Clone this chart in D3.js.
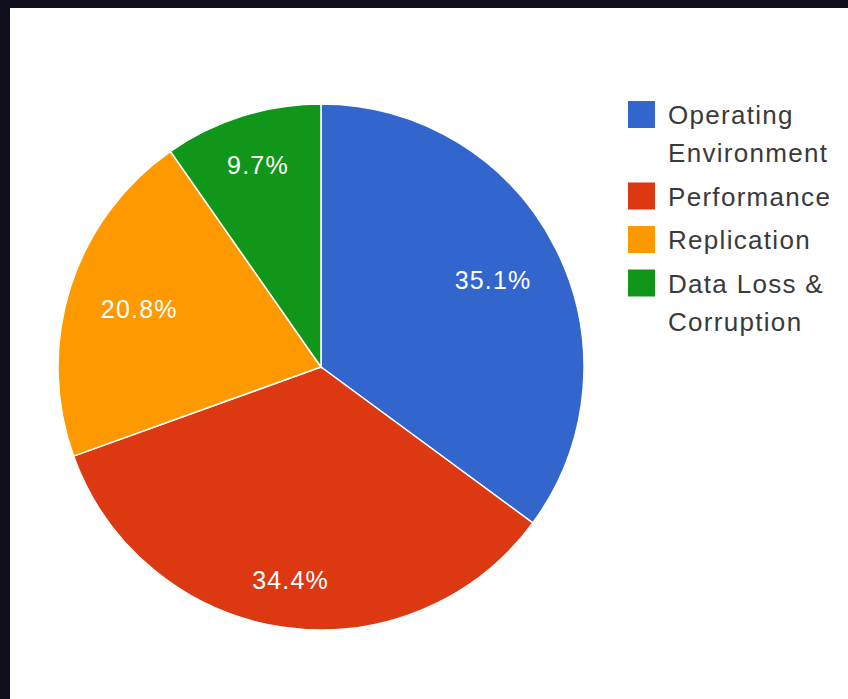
<!DOCTYPE html>
<html>
<head>
<meta charset="utf-8">
<script src="https://cdn.jsdelivr.net/npm/d3@7"></script>
<style>
  body { margin: 0; background: #0f0f1c; }
  svg { display: block; }
</style>
</head>
<body>
<div id="chart"></div>
<script>
// slice data
var categories = ["Operating Environment", "Performance", "Replication", "Data Loss & Corruption"];
var legendLines = [["Operating", "Environment"], ["Performance"], ["Replication"], ["Data Loss &", "Corruption"]];
var shares = [35.1, 34.4, 20.8, 9.7];
var colors = ["#3366cc", "#dc3912", "#ff9900", "#109618"];

var svgWidth = 848;
var svgHeight = 699;

var svg = d3.select("#chart")
  .append("svg")
  .attr("width", svgWidth)
  .attr("height", svgHeight);

// dark frame with white panel
svg.append("rect")
  .attr("width", svgWidth)
  .attr("height", svgHeight)
  .attr("fill", "#0f0f1c");

svg.append("rect")
  .attr("x", 10)
  .attr("y", 8)
  .attr("width", svgWidth - 10)
  .attr("height", svgHeight - 8)
  .attr("fill", "#ffffff");

var cx = 321, cy = 367, radius = 263;

var pie = d3.pie().sort(null).value(d => d);
var arc = d3.arc().innerRadius(0).outerRadius(radius);

var arcs = pie(shares);

var pieGroup = svg.append("g")
  .attr("transform", `translate(${cx}, ${cy})`);

pieGroup.selectAll("path")
  .data(arcs)
  .enter()
  .append("path")
  .attr("d", arc)
  .attr("fill", (d, i) => colors[i])
  .attr("stroke", "#ffffff")
  .attr("stroke-width", 1.5);

// percentage labels: text box kept inside a circle, as the original does
var labelFont = 25;
var labels = pieGroup.selectAll("text.pct")
  .data(arcs)
  .enter()
  .append("text")
  .attr("class", "pct")
  .attr("font-family", "Liberation Sans, Arial, sans-serif")
  .attr("font-size", labelFont + "px")
  .attr("letter-spacing", "1.2px")
  .attr("fill", "#ffffff")
  .attr("text-anchor", "middle")
  .attr("dominant-baseline", "central")
  .text(d => d.value.toFixed(1) + "%");

labels.each(function(d) {
  var w = this.getComputedTextLength();
  var h = 20;
  var a = (d.startAngle + d.endAngle) / 2;
  var s = Math.sin(a), c = Math.cos(a);
  var dist = 231 - (w / 2 * Math.abs(s) + h / 2 * Math.abs(c));
  d3.select(this)
    .attr("x", dist * s + 0.6)
    .attr("y", -dist * c);
});

// legend
var legend = svg.append("g");
var baseline = 124;
legendLines.forEach(function(lines, i) {
  legend.append("rect")
    .attr("x", 628)
    .attr("y", baseline - 23)
    .attr("width", 27)
    .attr("height", 27)
    .attr("fill", colors[i]);
  lines.forEach(function(line, j) {
    legend.append("text")
      .attr("x", 668)
      .attr("y", baseline + j * 38)
      .attr("font-family", "Liberation Sans, Arial, sans-serif")
      .attr("font-size", "26px")
      .attr("letter-spacing", "1.3px")
      .attr("fill", "#3a3a3a")
      .text(line);
  });
  baseline += (lines.length - 1) * 38 + 43.5;
});
</script>
</body>
</html>
